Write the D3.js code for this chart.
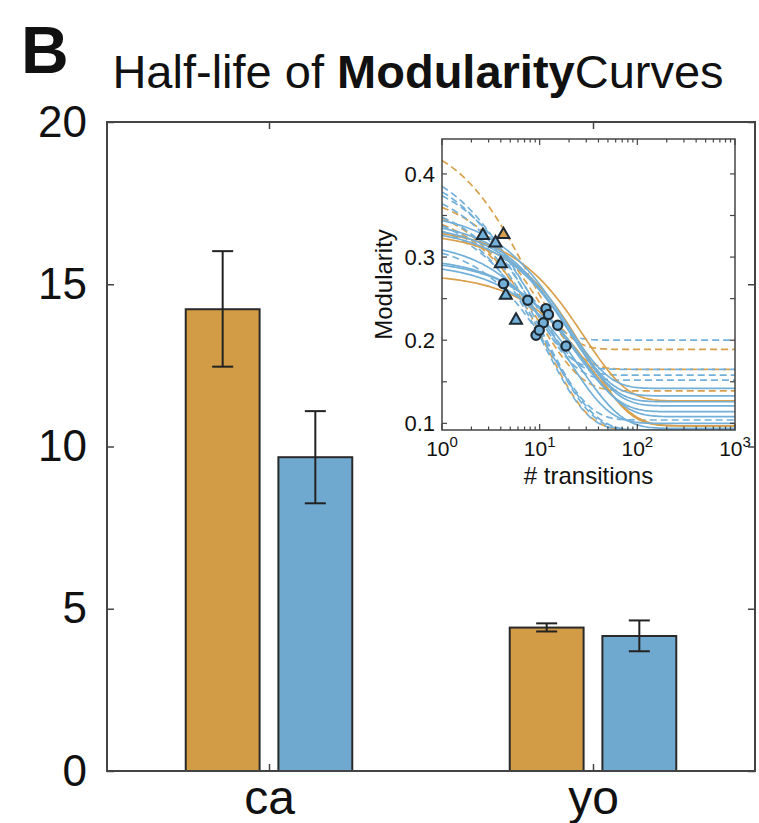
<!DOCTYPE html>
<html><head><meta charset="utf-8">
<script src="https://cdn.jsdelivr.net/npm/d3@7"></script>
<style>
html,body{margin:0;padding:0;background:#fff;}
svg{display:block;font-family:"Liberation Sans",Arial,Helvetica,sans-serif;}
</style></head>
<body>
<svg id="chart" width="759" height="823"></svg>
<script>
// ---- main bar chart data ----
const categories = ["ca", "yo"];
const orangeValues = [14.23, 4.42];
const orangeLow = [12.46, 4.30];
const orangeHigh = [16.02, 4.55];
const blueValues = [9.67, 4.16];
const blueLow = [8.25, 3.69];
const blueHigh = [11.09, 4.64];
const yTicks = [0, 5, 10, 15, 20];

// ---- inset: fitted decay curves (start value, plateau, half-life) ----
const curveStart   = [0.45, 0.38, 0.36, 0.37, 0.335, 0.33, 0.28,
                      0.42, 0.41, 0.40, 0.39, 0.37, 0.36, 0.35, 0.32,
                      0.355, 0.345, 0.34, 0.335, 0.30, 0.297, 0.293, 0.32];
const curvePlateau = [0.189, 0.165, 0.139, 0.092, 0.127, 0.097, 0.097,
                      0.200, 0.165, 0.158, 0.152, 0.104, 0.092, 0.092, 0.092,
                      0.142, 0.133, 0.126, 0.121, 0.114, 0.108, 0.094, 0.100];
const curveHalfLife = [5, 7, 7, 8, 20, 21, 24,
                       4, 5, 6, 6, 8, 8, 9, 10,
                       13, 14, 15, 16, 17, 19, 18, 13];
const curveGroup = ["o","o","o","o","o","o","o",
                    "b","b","b","b","b","b","b","b",
                    "b","b","b","b","b","b","b","b"];
const curveDashed = [1,1,1,1,0,0,0,
                     1,1,1,1,1,1,1,1,
                     0,0,0,0,0,0,0,0];
// half-life markers
const markerX = [2.62, 3.53, 4.26, 4.0, 4.26, 4.5, 7.55, 5.73, 9.18, 11.6, 12.3, 10.9, 15.3, 18.6, 9.9];
const markerY = [0.326, 0.317, 0.327, 0.292, 0.268, 0.254, 0.248, 0.224, 0.206, 0.238, 0.231, 0.221, 0.218, 0.193, 0.212];
const markerShape = ["t","t","t","t","c","t","c","t","c","c","c","c","c","c","c"];
const markerGroup = ["b","b","o","b","b","b","b","b","b","b","b","b","b","b","b"];
const insetXTicks = [1, 10, 100, 1000];
const insetYTicks = [0.1, 0.2, 0.3, 0.4];
const insetYMinor = [0.1, 0.15, 0.2, 0.25, 0.3, 0.35, 0.4];

const ORANGE = "#D29B45", BLUE = "#70A9CF";
const IORANGE = "#D9A04C", IBLUE = "#73B0D9";
const AX = "#444";

const svg = d3.select("#chart");

// panel letter + title
svg.append("text").attr("x", 21).attr("y", 73).attr("font-size", 66)
  .attr("font-weight", "bold").attr("fill", "#111").text("B");
const title = svg.append("text").attr("x", 418).attr("y", 88)
  .attr("text-anchor", "middle").attr("font-size", 47).attr("fill", "#111");
title.append("tspan").text("Half-life of ");
title.append("tspan").attr("font-weight", "bold").text("Modularity");
title.append("tspan").text("Curves");

// main scales
const L = 107, R = 755, T = 122, B = 771;
const x = d3.scaleLinear().domain([0.5, 2.5]).range([L, R]);
const y = d3.scaleLinear().domain([0, 20]).range([B, T]);
const barW = 0.228, off = 0.143;

svg.append("rect").attr("x", L).attr("y", T).attr("width", R - L).attr("height", B - T)
  .attr("fill", "#fff");

function drawBars(vals, dx, color) {
  categories.forEach((c, i) => {
    const cx = i + 1 + dx;
    svg.append("rect")
      .attr("x", x(cx - barW / 2)).attr("y", y(vals[i]))
      .attr("width", x(cx + barW / 2) - x(cx - barW / 2))
      .attr("height", y(0) - y(vals[i]))
      .attr("fill", color).attr("stroke", "#2a2a2a").attr("stroke-width", 2);
  });
}
drawBars(orangeValues, -off, ORANGE);
drawBars(blueValues, off, BLUE);

function drawErr(lo, hi, dx) {
  categories.forEach((c, i) => {
    const px = x(i + 1 + dx);
    const g = svg.append("g").attr("stroke", "#222").attr("stroke-width", 2);
    g.append("line").attr("x1", px).attr("x2", px).attr("y1", y(lo[i])).attr("y2", y(hi[i]));
    g.append("line").attr("x1", px - 10.5).attr("x2", px + 10.5).attr("y1", y(lo[i])).attr("y2", y(lo[i]));
    g.append("line").attr("x1", px - 10.5).attr("x2", px + 10.5).attr("y1", y(hi[i])).attr("y2", y(hi[i]));
  });
}
drawErr(orangeLow, orangeHigh, -off);
drawErr(blueLow, blueHigh, off);

// axes box
svg.append("rect").attr("x", L).attr("y", T).attr("width", R - L).attr("height", B - T)
  .attr("fill", "none").attr("stroke", AX).attr("stroke-width", 2);

// y axis
const yAxis = d3.axisLeft(y).tickValues(yTicks).tickSize(-7).tickPadding(20);
const ga = svg.append("g").attr("transform", `translate(${L},0)`).call(yAxis);
ga.select(".domain").remove();
ga.selectAll(".tick line").attr("stroke", AX).attr("stroke-width", 1.5);
ga.selectAll(".tick text").attr("font-size", 44).attr("fill", "#111")
  .attr("font-family", "Liberation Sans, Arial, sans-serif");
const yAxisR = d3.axisRight(y).tickValues(yTicks).tickSize(-7).tickFormat("");
const gr = svg.append("g").attr("transform", `translate(${R},0)`).call(yAxisR);
gr.select(".domain").remove();
gr.selectAll(".tick line").attr("stroke", AX).attr("stroke-width", 1.5);

// x axis
const xAxis = d3.axisBottom(x).tickValues([1, 2]).tickFormat((d) => categories[d - 1])
  .tickSize(-7).tickPadding(9);
const gx = svg.append("g").attr("transform", `translate(0,${B})`).call(xAxis);
gx.select(".domain").remove();
gx.selectAll(".tick line").attr("stroke", AX).attr("stroke-width", 1.5);
gx.selectAll(".tick text").attr("font-size", 48).attr("fill", "#111")
  .attr("font-family", "Liberation Sans, Arial, sans-serif");
const xAxisT = d3.axisTop(x).tickValues([1, 2]).tickFormat("").tickSize(-7);
const gt = svg.append("g").attr("transform", `translate(0,${T})`).call(xAxisT);
gt.select(".domain").remove();
gt.selectAll(".tick line").attr("stroke", AX).attr("stroke-width", 1.5);

// ---- inset ----
const iL = 442, iR = 735, iT = 139, iB = 430;
const ix = d3.scaleLog().domain([1, 1000]).range([iL, iR]);
const iy = d3.scaleLinear().domain([0.092, 0.442]).range([iB, iT]);

svg.append("rect").attr("x", iL).attr("y", iT).attr("width", iR - iL).attr("height", iB - iT)
  .attr("fill", "#fff");
svg.append("defs").append("clipPath").attr("id", "ic").append("rect")
  .attr("x", iL).attr("y", iT).attr("width", iR - iL).attr("height", iB - iT);

const xs = d3.range(0, 3.0001, 0.02).map((e) => Math.pow(10, e));
const line = d3.line().x((d) => ix(d[0])).y((d) => iy(d[1]));
const cg = svg.append("g").attr("clip-path", "url(#ic)");
const order = d3.range(curveStart.length).sort((a, b) => curveDashed[b] - curveDashed[a]);
order.forEach((k) => {
  const pts = xs.map((t) => [t, curvePlateau[k] + (curveStart[k] - curvePlateau[k]) * Math.pow(2, -t / curveHalfLife[k])]);
  cg.append("path").attr("d", line(pts)).attr("fill", "none")
    .attr("stroke", curveGroup[k] === "o" ? IORANGE : IBLUE)
    .attr("stroke-width", 1.7)
    .attr("stroke-dasharray", curveDashed[k] ? "7,4" : null);
});
// markers
markerX.forEach((mx, k) => {
  const px = ix(mx), py = iy(markerY[k]);
  const fill = markerGroup[k] === "o" ? IORANGE : IBLUE;
  if (markerShape[k] === "c") {
    cg.append("circle").attr("cx", px).attr("cy", py).attr("r", 4.6)
      .attr("fill", fill).attr("stroke", "#1e2a33").attr("stroke-width", 2.2);
  } else {
    cg.append("path").attr("transform", `translate(${px},${py})`)
      .attr("d", d3.symbol(d3.symbolTriangle, 62)())
      .attr("fill", fill).attr("stroke", "#1e2a33").attr("stroke-width", 2);
  }
});

svg.append("rect").attr("x", iL).attr("y", iT).attr("width", iR - iL).attr("height", iB - iT)
  .attr("fill", "none").attr("stroke", AX).attr("stroke-width", 1.5);

// inset minor x ticks (log)
const minor = [];
for (let d = 0; d < 3; d++) for (let m = 1; m < 10; m++) minor.push(m * Math.pow(10, d));
minor.push(1000);
const tk = svg.append("g").attr("stroke", AX).attr("stroke-width", 1.2);
minor.forEach((v) => {
  const major = insetXTicks.includes(v);
  const len = major ? 6 : 3.5;
  tk.append("line").attr("x1", ix(v)).attr("x2", ix(v)).attr("y1", iB).attr("y2", iB - len);
  tk.append("line").attr("x1", ix(v)).attr("x2", ix(v)).attr("y1", iT).attr("y2", iT + len);
});
insetYMinor.forEach((v) => {
  tk.append("line").attr("x1", iL).attr("x2", iL + 5).attr("y1", iy(v)).attr("y2", iy(v));
  tk.append("line").attr("x1", iR).attr("x2", iR - 5).attr("y1", iy(v)).attr("y2", iy(v));
});
// inset tick labels
insetYTicks.forEach((v) => {
  svg.append("text").attr("x", iL - 7).attr("y", iy(v)).attr("dy", "0.35em")
    .attr("text-anchor", "end").attr("font-size", 22).attr("fill", "#111")
    .text(d3.format(".1f")(v));
});
insetXTicks.forEach((v) => {
  const t = svg.append("text").attr("x", ix(v)).attr("y", 456)
    .attr("text-anchor", "middle").attr("font-size", 21).attr("fill", "#111");
  t.append("tspan").text("10");
  t.append("tspan").attr("dy", -9).attr("font-size", 15).text(String(Math.round(Math.log10(v))));
});
svg.append("text").attr("x", (iL + iR) / 2).attr("y", 484).attr("text-anchor", "middle")
  .attr("font-size", 24).attr("fill", "#111").text("# transitions");
svg.append("text").attr("transform", `translate(392,${(iT + iB) / 2}) rotate(-90)`)
  .attr("text-anchor", "middle").attr("font-size", 24).attr("fill", "#111").text("Modularity");
</script>
</body></html>
